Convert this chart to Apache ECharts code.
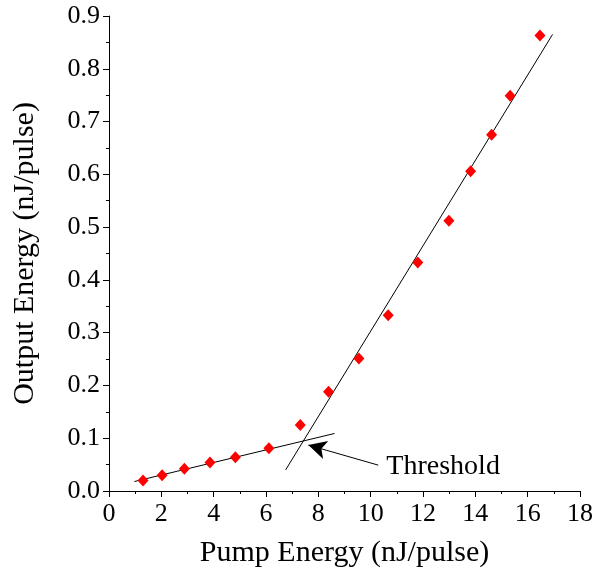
<!DOCTYPE html>
<html>
<head>
<meta charset="utf-8">
<script src="https://cdn.jsdelivr.net/npm/echarts@6/dist/echarts.min.js"></script>
<style>
  html, body { margin: 0; padding: 0; background: #fff; }
  #chart { width: 596px; height: 576px; }
</style>
</head>
<body>
<div id="chart"></div>
<script>
// measured points (pump, output) in nJ/pulse
const pumpEnergy = [1.30, 2.03, 2.88, 3.86, 4.83, 6.11, 7.31, 8.39, 9.55, 10.67, 11.80, 12.99, 13.82, 14.62, 15.33, 16.47];
const outputEnergy = [0.020, 0.030, 0.042, 0.054, 0.064, 0.081, 0.125, 0.188, 0.251, 0.333, 0.433, 0.512, 0.606, 0.675, 0.749, 0.863];

// linear fits, below and above threshold (end points)
const fitBelow = [[0.97, 0.018], [8.62, 0.109]];
const fitAbove = [[6.75, 0.040], [16.95, 0.865]];

// arrow annotation
const arrowFrom = [10.29, 0.049];
const arrowTo = [7.62, 0.087];
const labelAt = [10.6, 0.046];
const labelText = "Threshold";

const xTicks = [0, 2, 4, 6, 8, 10, 12, 14, 16, 18];
const yTicks = [0.0, 0.1, 0.2, 0.3, 0.4, 0.5, 0.6, 0.7, 0.8, 0.9];

const font = "'Liberation Serif', 'DejaVu Serif', serif";

const chart = echarts.init(document.getElementById("chart"));

const axisCommon = {
  axisLine: { show: true, lineStyle: { color: "#000", width: 1 } },
  axisTick: { show: true, inside: false, length: 6, lineStyle: { color: "#000" } },
  minorTick: { show: true, splitNumber: 2, length: 3, lineStyle: { color: "#000" } },
  splitLine: { show: false },
  nameLocation: "middle",
  nameTextStyle: { fontFamily: font, fontSize: 30, color: "#000" },
};

chart.setOption({
  animation: false,
  grid: { left: 109, top: 16, width: 471, height: 475 },
  xAxis: Object.assign({}, axisCommon, {
    type: "value",
    min: xTicks[0],
    max: xTicks[xTicks.length - 1],
    interval: 2,
    name: "Pump Energy (nJ/pulse)",
    nameGap: 47,
    axisLabel: { fontFamily: font, fontSize: 26, color: "#000", margin: 10 },
  }),
  yAxis: Object.assign({}, axisCommon, {
    type: "value",
    min: yTicks[0],
    max: yTicks[yTicks.length - 1],
    interval: 0.1,
    name: "Output Energy (nJ/pulse)",
    nameGap: 69,
    axisLabel: {
      fontFamily: font, fontSize: 26, color: "#000", margin: 9,
      formatter: (v) => v.toFixed(1),
    },
  }),
  series: [
    {
      type: "line",
      data: fitBelow,
      symbol: "none",
      lineStyle: { color: "#000", width: 1 },
      z: 2,
    },
    {
      type: "line",
      data: fitAbove,
      symbol: "none",
      lineStyle: { color: "#000", width: 1 },
      z: 2,
      markLine: {
        silent: true,
        symbol: ["none", "arrow"],
        symbolSize: [14, 18],
        lineStyle: { color: "#000", width: 1, type: "solid" },
        label: { show: false },
        data: [[{ coord: arrowFrom }, { coord: arrowTo }]],
      },
    },
    {
      type: "scatter",
      data: pumpEnergy.map((x, i) => [x, outputEnergy[i]]),
      symbol: "diamond",
      symbolSize: [11, 12],
      itemStyle: { color: "#ff0000", opacity: 1 },
      z: 3,
    },
    {
      type: "scatter",
      data: [labelAt],
      symbolSize: 0,
      silent: true,
      itemStyle: { opacity: 1 },
      label: {
        show: true,
        position: "right",
        distance: 0,
        formatter: labelText,
        fontFamily: font,
        fontSize: 28,
        color: "#000",
      },
    },
  ],
});
</script>
</body>
</html>
